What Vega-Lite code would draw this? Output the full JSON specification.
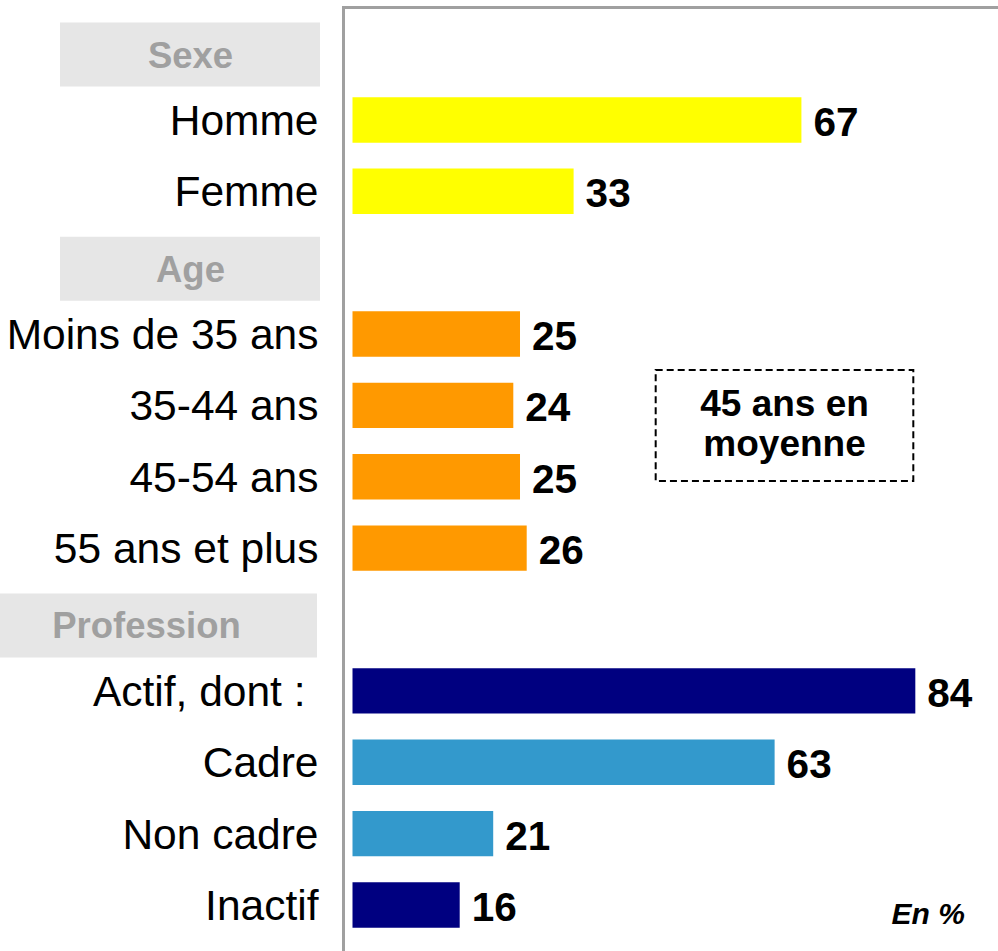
{
  "$schema": "https://vega.github.io/schema/vega-lite/v6.json",
  "width": 655,
  "height": 944,
  "autosize": "none",
  "padding": {"left": 343, "top": 7, "right": 0, "bottom": 0},
  "background": "#ffffff",
  "config": {"view": {"stroke": null}, "font": "Liberation Sans"},
  "datasets": {
    "rows": [
      {"label": "Sexe", "kind": "header"},
      {"label": "Homme", "value": 67, "group": "sexe"},
      {"label": "Femme", "value": 33, "group": "sexe"},
      {"label": "Age", "kind": "header"},
      {"label": "Moins de 35 ans", "value": 25, "group": "age"},
      {"label": "35-44 ans", "value": 24, "group": "age"},
      {"label": "45-54 ans", "value": 25, "group": "age"},
      {"label": "55 ans et plus", "value": 26, "group": "age"},
      {"label": "Profession", "kind": "header"},
      {"label": "Actif, dont :", "value": 84, "group": "statut"},
      {"label": "Cadre", "value": 63, "group": "detail"},
      {"label": "Non cadre", "value": 21, "group": "detail"},
      {"label": "Inactif", "value": 16, "group": "statut"}
    ],
    "note": [{"lines": ["45 ans en", "moyenne"], "unit": "En %"}]
  },
  "data": {"name": "rows"},
  "layer": [
    {
      "transform": [{"filter": "datum.value != null"}],
      "mark": {"type": "bar"},
      "encoding": {
        "y": {
          "field": "label", "type": "nominal",
          "scale": {"domain": ["Sexe", "Homme", "Femme", "Age", "Moins de 35 ans", "35-44 ans", "45-54 ans", "55 ans et plus", "Profession", "Actif, dont :", "Cadre", "Non cadre", "Inactif"], "paddingInner": 0.364, "paddingOuter": 0.296, "align": 0.447},
          "axis": {
            "title": null, "ticks": false, "tickSize": 0, "grid": false, "zindex": 1,
            "domain": true, "domainColor": "#a0a0a0", "domainWidth": 3, "domainCap": "square",
            "labelFont": "Liberation Sans", "labelLimit": 500, "labelOverlap": false, "labelBaseline": "middle",
            "labelFontSize": {"condition": {"test": "indexof(['Sexe','Age','Profession'], datum.value) >= 0", "value": 36.5}, "value": 42.5},
            "labelFontWeight": {"condition": {"test": "indexof(['Sexe','Age','Profession'], datum.value) >= 0", "value": "bold"}, "value": "normal"},
            "labelColor": {"condition": {"test": "indexof(['Sexe','Age','Profession'], datum.value) >= 0", "value": "#a0a0a0"}, "value": "#000000"},
            "labelAlign": {"condition": {"test": "indexof(['Sexe','Age','Profession'], datum.value) >= 0", "value": "center"}, "value": "right"},
            "labelPadding": {"condition": [{"test": "datum.value === 'Profession'", "value": 197}, {"test": "datum.value === 'Sexe' || datum.value === 'Age'", "value": 153}, {"test": "datum.value === 'Actif, dont :'", "value": 38}], "value": 25},
            "labelOffset": {"condition": {"test": "indexof(['Sexe','Age','Profession'], datum.value) >= 0", "value": 8}, "value": 2}
          }
        },
        "x": {
          "field": "value", "type": "quantitative",
          "scale": {"domain": [-1.418, 96.34], "nice": false, "zero": false},
          "axis": {"orient": "top", "labels": false, "ticks": false, "title": null, "grid": false,
                   "domain": true, "domainColor": "#a0a0a0", "domainWidth": 3, "domainCap": "square"}
        },
        "color": {
          "field": "group", "type": "nominal", "legend": null,
          "scale": {"domain": ["sexe", "age", "statut", "detail"], "range": ["#ffff00", "#ff9900", "#000080", "#3399cc"]}
        }
      }
    },
    {
      "transform": [{"filter": "datum.label === 'Sexe' || datum.label === 'Age'"}],
      "mark": {"type": "bar", "color": "#e6e6e6", "height": 64, "yOffset": 6},
      "encoding": {
        "y": {"field": "label", "type": "nominal"},
        "x": {"datum": -43.66, "type": "quantitative"},
        "x2": {"datum": -4.85}
      }
    },
    {
      "transform": [{"filter": "datum.label === 'Profession'"}],
      "mark": {"type": "bar", "color": "#e6e6e6", "height": 64, "yOffset": 6},
      "encoding": {
        "y": {"field": "label", "type": "nominal"},
        "x": {"datum": -52.61, "type": "quantitative"},
        "x2": {"datum": -5.3}
      }
    },
    {
      "transform": [{"filter": "datum.value != null"}],
      "mark": {"type": "text", "align": "left", "baseline": "middle", "dx": 12, "dy": 4, "font": "Liberation Sans", "fontSize": 40.5, "fontWeight": "bold", "color": "#000000"},
      "encoding": {
        "y": {"field": "label", "type": "nominal"},
        "x": {"field": "value", "type": "quantitative"},
        "text": {"field": "value", "type": "quantitative"}
      }
    },
    {
      "data": {"name": "note"},
      "mark": {"type": "bar", "filled": false, "color": "#000000", "strokeWidth": 2, "strokeDash": [7, 4], "height": 111, "yOffset": 20},
      "encoding": {
        "y": {"datum": "35-44 ans", "type": "nominal"},
        "x": {"datum": 45.25, "type": "quantitative"},
        "x2": {"datum": 83.7}
      }
    },
    {
      "data": {"name": "note"},
      "mark": {"type": "text", "align": "center", "baseline": "alphabetic", "dy": 11, "lineHeight": 40, "font": "Liberation Sans", "fontSize": 37, "fontWeight": "bold", "color": "#000000"},
      "encoding": {
        "y": {"datum": "35-44 ans", "type": "nominal"},
        "x": {"datum": 64.48, "type": "quantitative"},
        "text": {"field": "lines"}
      }
    },
    {
      "data": {"name": "note"},
      "mark": {"type": "text", "align": "right", "baseline": "alphabetic", "dy": 19, "font": "Liberation Sans", "fontSize": 30, "fontWeight": "bold", "fontStyle": "italic", "color": "#000000"},
      "encoding": {
        "y": {"datum": "Inactif", "type": "nominal"},
        "x": {"datum": 91.4, "type": "quantitative"},
        "text": {"field": "unit"}
      }
    }
  ]
}
